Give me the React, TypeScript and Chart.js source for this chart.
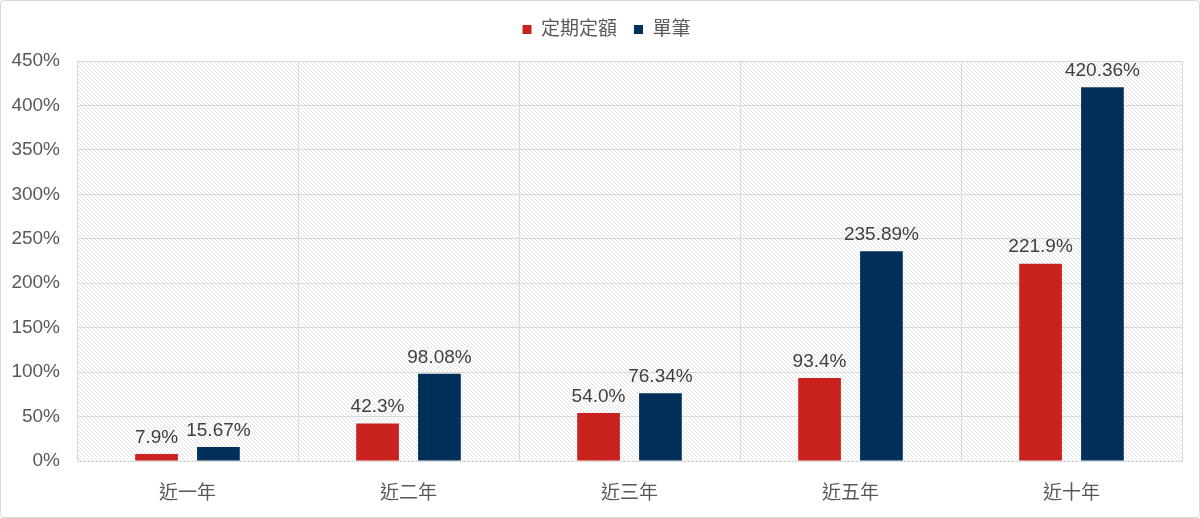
import { useEffect, useRef } from "react";
import { Chart, registerables, Plugin } from "chart.js";

Chart.register(...registerables);

const categories = ["近一年", "近二年", "近三年", "近五年", "近十年"];
const seriesNames = ["定期定額", "單筆"];
const regularValues = [7.9, 42.3, 54.0, 93.4, 221.9];
const lumpSumValues = [15.67, 98.08, 76.34, 235.89, 420.36];
const regularLabels = ["7.9%", "42.3%", "54.0%", "93.4%", "221.9%"];
const lumpSumLabels = ["15.67%", "98.08%", "76.34%", "235.89%", "420.36%"];

const RED = "#C9211E";
const NAVY = "#003059";
const TEXT = "#595959";
const GRID = "#D9D9D9";
const FONT = "'Liberation Sans', Arial, 'Noto Sans CJK TC', sans-serif";

function makeHatch(): CanvasPattern | string {
  const tile = document.createElement("canvas");
  tile.width = 4;
  tile.height = 4;
  const c = tile.getContext("2d");
  if (!c) return "#fff";
  c.fillStyle = "#ffffff";
  c.fillRect(0, 0, 4, 4);
  c.strokeStyle = "#e2e2e2";
  c.lineWidth = 1;
  c.beginPath();
  c.moveTo(-1, -1);
  c.lineTo(5, 5);
  c.stroke();
  return c.createPattern(tile, "repeat") || "#fff";
}

// hatched plot area background
const plotBackground: Plugin<"bar"> = {
  id: "plotBackground",
  beforeDraw(chart) {
    const { ctx, chartArea } = chart;
    ctx.save();
    ctx.fillStyle = makeHatch();
    ctx.fillRect(chartArea.left, chartArea.top, chartArea.right - chartArea.left, chartArea.bottom - chartArea.top);
    ctx.restore();
  },
};

// extra space below the legend, legend nudged a little right
const legendGap: Plugin<"bar"> = {
  id: "legendGap",
  beforeInit(chart: any) {
    const legend = chart.legend;
    if (!legend) return;
    const fit = legend.fit;
    legend.fit = function () {
      fit.bind(legend)();
      this.height += 12;
    };
  },
  afterLayout(chart: any) {
    if (chart.legend) chart.legend.left += 30;
  },
};

// value labels above bars
const valueLabels: Plugin<"bar"> = {
  id: "valueLabels",
  afterDatasetsDraw(chart) {
    const { ctx } = chart;
    const texts = [regularLabels, lumpSumLabels];
    ctx.save();
    ctx.font = `19px ${FONT}`;
    ctx.fillStyle = "#404040";
    ctx.textAlign = "center";
    ctx.textBaseline = "bottom";
    chart.data.datasets.forEach((_, di) => {
      chart.getDatasetMeta(di).data.forEach((bar, i) => {
        ctx.fillText(texts[di][i], bar.x, bar.y - 7);
      });
    });
    ctx.restore();
  },
};

export default function App() {
  const chartRef = useRef<HTMLCanvasElement>(null);
  const chartInstance = useRef<Chart | null>(null);

  useEffect(() => {
    document.body.style.margin = "0";
    if (!chartRef.current) return;
    if (chartInstance.current) chartInstance.current.destroy();
    const ctx = chartRef.current.getContext("2d");
    if (!ctx) return;

    chartInstance.current = new Chart(ctx, {
      type: "bar",
      data: {
        labels: categories,
        datasets: [
          {
            label: seriesNames[0],
            data: regularValues,
            backgroundColor: RED,
            barPercentage: 0.69,
            categoryPercentage: 0.56,
          },
          {
            label: seriesNames[1],
            data: lumpSumValues,
            backgroundColor: NAVY,
            barPercentage: 0.69,
            categoryPercentage: 0.56,
          },
        ],
      },
      options: {
        responsive: true,
        maintainAspectRatio: false,
        animation: false,
        layout: { padding: { top: 2, right: 17, left: 0, bottom: 0 } },
        scales: {
          x: {
            grid: { color: GRID, offset: true, drawTicks: false },
            border: { color: GRID },
            ticks: { color: TEXT, font: { size: 19, family: FONT }, padding: 21 },
            afterFit: (scale) => {
              scale.height = 56;
            },
          },
          y: {
            min: 0,
            max: 450,
            grid: { color: GRID, drawTicks: false },
            border: { color: GRID },
            ticks: {
              stepSize: 50,
              color: TEXT,
              padding: 17,
              font: { size: 19, family: FONT },
              callback: (v) => `${v}%`,
            },
            afterFit: (scale) => {
              scale.width = 76;
            },
          },
        },
        plugins: {
          legend: {
            position: "top",
            labels: {
              color: TEXT,
              font: { size: 19, family: FONT },
              boxWidth: 9,
              boxHeight: 9,
              padding: 17,
            },
          },
          tooltip: { enabled: false },
        },
      },
      plugins: [legendGap, plotBackground, valueLabels],
    });

    return () => {
      if (chartInstance.current) {
        chartInstance.current.destroy();
        chartInstance.current = null;
      }
    };
  }, []);

  return (
    <div
      style={{
        width: 1200,
        height: 518,
        boxSizing: "border-box",
        border: "1px solid #d9d9d9",
        borderRadius: 4,
        background: "#fff",
      }}
    >
      <canvas ref={chartRef} />
    </div>
  );
}
